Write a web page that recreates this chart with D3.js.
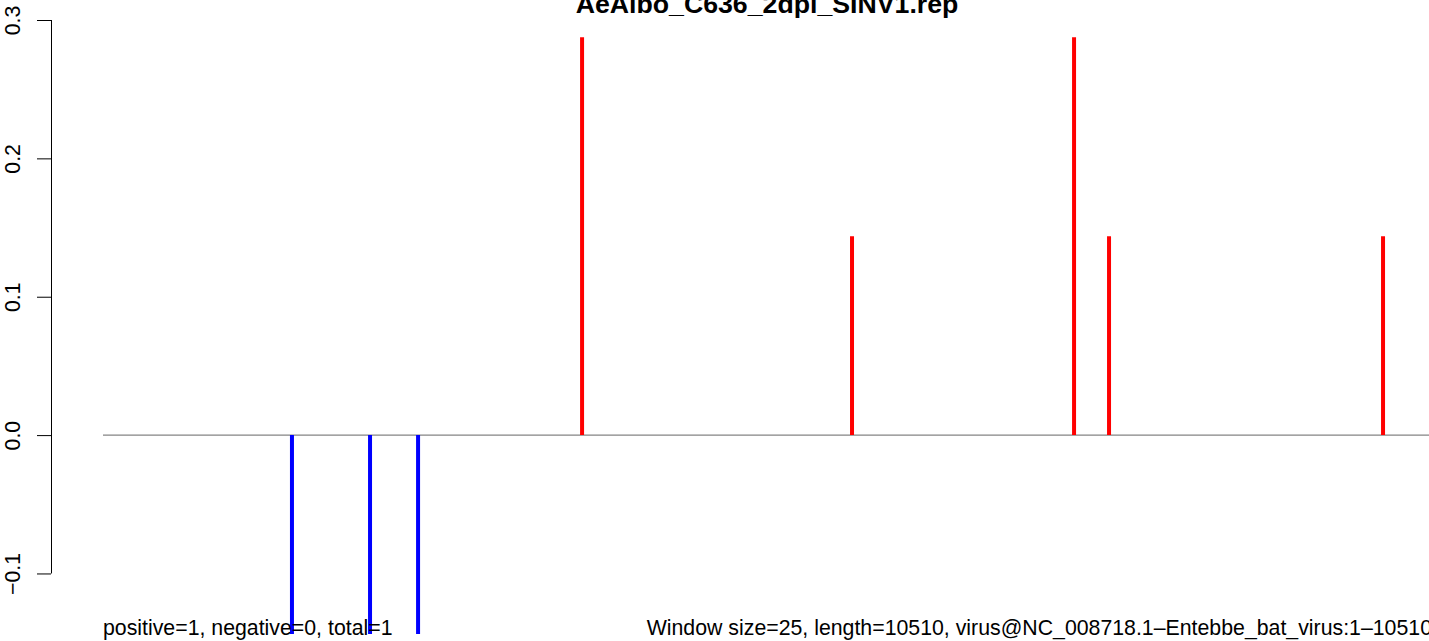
<!DOCTYPE html>
<html><head><meta charset="utf-8">
<script src="https://cdn.jsdelivr.net/npm/d3@7"></script>
<style>body{margin:0;background:#fff}svg{display:block}text{font-family:"Liberation Sans",Arial,sans-serif}</style>
</head><body>
<svg id="c" width="1429" height="641"></svg>
<script>
const title = "AeAlbo_C636_2dpi_SINV1.rep";
const genomeLength = 10510;
const positivePos = [3780, 5910, 7662, 7938, 10100];
const positiveVal = [0.2875, 0.14375, 0.2875, 0.14375, 0.14375];
const negativePos = [1491, 2107, 2486];
const negativeVal = [-0.14375, -0.14375, -0.14375];
const yTicks = [-0.1, 0.0, 0.1, 0.2, 0.3];
const leftNote = "positive=1, negative=0, total=1";
const rightNote = "Window size=25, length=10510, virus@NC_008718.1\u2013Entebbe_bat_virus:1\u201310510";

const svg = d3.select("#c");
const x = d3.scaleLinear().domain([0, genomeLength]).range([103, 1435]);
const y = d3.scaleLinear().domain([-0.14375, 0.3]).range([634, 20]);

// y axis
const ax = svg.append("g").attr("transform", "translate(51,0)")
  .call(d3.axisLeft(y).tickValues(yTicks).tickSize(14).tickSizeOuter(0));
ax.attr("font-family", null);
ax.select(".domain").attr("stroke", "#000").attr("stroke-width", 1)
  .attr("d", `M0.5,${y(0.3)}V${y(-0.1)}`);
ax.selectAll(".tick line").attr("stroke", "#000");
ax.selectAll(".tick text")
  .attr("font-size", 21.3).attr("fill", "#000")
  .attr("transform", "rotate(-90)")
  .attr("x", 0).attr("y", -31).attr("dy", 0)
  .attr("text-anchor", "middle")
  .text(d => d.toFixed(1).replace("-", "\u2212"));

// zero line
svg.append("line").attr("x1", 103).attr("x2", 1429).attr("y1", y(0)).attr("y2", y(0))
  .attr("stroke", "#666").attr("stroke-width", 1);

// bars
svg.selectAll(".pos").data(positivePos).enter().append("line")
  .attr("x1", d => x(d)).attr("x2", d => x(d))
  .attr("y1", y(0)).attr("y2", (d,i) => y(positiveVal[i]))
  .attr("stroke", "#ff0000").attr("stroke-width", 4);
svg.selectAll(".neg").data(negativePos).enter().append("line")
  .attr("x1", d => x(d)).attr("x2", d => x(d))
  .attr("y1", y(0)).attr("y2", (d,i) => y(negativeVal[i]))
  .attr("stroke", "#0000ff").attr("stroke-width", 4);

// title
svg.append("text").attr("x", 767).attr("y", 13).attr("text-anchor", "middle")
  .attr("font-size", 26.7).attr("font-weight", "bold").text(title);

// notes
svg.append("text").attr("x", 103).attr("y", 635).attr("font-size", 21.3).text(leftNote);
svg.append("text").attr("x", 1432).attr("y", 635).attr("text-anchor", "end").attr("font-size", 21.3).text(rightNote);
</script>
</body></html>
